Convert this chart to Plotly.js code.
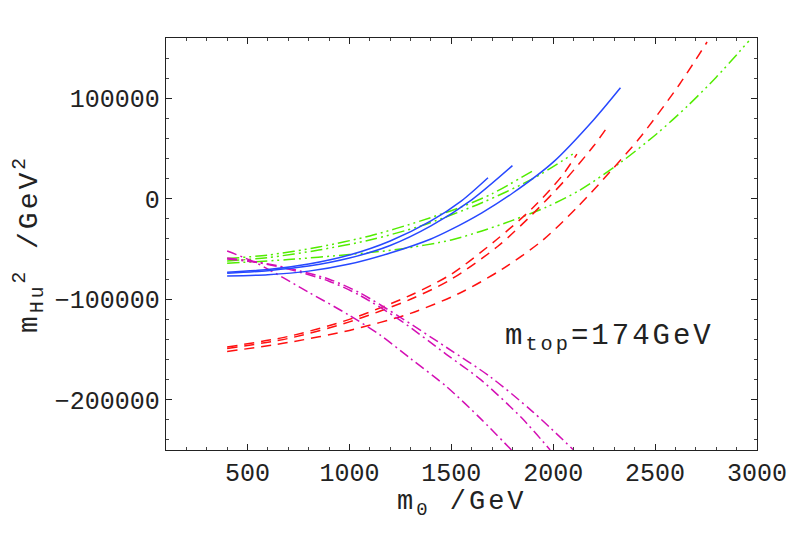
<!DOCTYPE html>
<html>
<head>
<meta charset="utf-8">
<script src="https://cdn.plot.ly/plotly-3.0.1.min.js"></script>
<style>
html,body{margin:0;padding:0;background:#fff;}
.annotation-text{letter-spacing:3px;}
</style>
</head>
<body>
<div id="chart" style="width:789px;height:553px;"></div>
<script>
// ---- data ----
const blue1X = [400, 600, 800, 1000, 1200, 1400, 1550, 1680];
const blue1Y = [-73000, -70500, -65000, -56000, -42000, -22000, -2000, 21000];
const blue2X = [400, 600, 800, 1000, 1200, 1400, 1600, 1800];
const blue2Y = [-74200, -71500, -67000, -59000, -46500, -27000, -1000, 33000];
const blue3X = [400, 600, 800, 1000, 1200, 1400, 1500, 1650, 1800, 2000, 2200, 2330];
const blue3Y = [-76800, -75500, -72000, -65000, -54000, -40000, -30500, -14000, 5500, 36500, 79000, 110500];

const green1X = [400, 600, 850, 1100, 1350, 1550, 1700, 1900];
const green1Y = [-59500, -56000, -48000, -37000, -22000, -8000, 5000, 27800];
const green2X = [400, 600, 850, 1100, 1350, 1650, 1900, 2096];
const green2Y = [-61900, -58500, -51000, -41000, -27000, -4000, 20000, 44400];
const green3X = [400, 700, 1000, 1250, 1500, 1650, 1800, 1970, 2130, 2330, 2510, 2660, 2800, 2960];
const green3Y = [-64200, -60500, -55500, -50000, -41000, -32000, -21500, -8000, 8500, 36000, 65000, 92500, 121000, 157000];

const red1X = [400, 700, 1000, 1300, 1500, 1720, 1900, 2040, 2116];
const red1Y = [-147500, -137000, -120000, -96000, -75000, -41000, -9000, 22000, 44400];
const red2X = [400, 700, 1000, 1300, 1500, 1730, 1900, 2060, 2200, 2259];
const red2Y = [-149000, -139000, -122500, -100000, -80000, -47000, -15000, 19000, 53000, 69500];
const red3X = [400, 700, 1000, 1300, 1540, 1750, 1950, 2120, 2280, 2430, 2620, 2755];
const red3Y = [-152000, -143000, -131000, -114000, -94000, -70000, -41000, -8000, 27000, 62000, 114000, 156000];

const mag1X = [400, 544, 800, 1000, 1150, 1300, 1477, 1650, 1795];
const mag1Y = [-52000, -64000, -93000, -116000, -135500, -159000, -187000, -220000, -250000];
const mag2X = [400, 550, 700, 900, 1050, 1250, 1477, 1644, 1845, 1985];
const mag2Y = [-60000, -63500, -70000, -82000, -96000, -121000, -155000, -180000, -218000, -250000];
const mag3X = [400, 550, 700, 900, 1050, 1250, 1477, 1690, 1900, 2100];
const mag3Y = [-59000, -63000, -69000, -80000, -93500, -118000, -148000, -177000, -212000, -250000];

const xTickVals = [500, 1000, 1500, 2000, 2500, 3000];
const xTickText = ['500', '1000', '1500', '2000', '2500', '3000'];
const yTickVals = [100000, 0, -100000, -200000];
const yTickText = ['100000', '0', '\u2212100000', '\u2212200000'];

const annText = 'm<sub>top</sub>=174GeV';
const xTitle = 'm<sub>0</sub> /GeV';
const yTitle = 'm<sub>Hu</sub><sup>2</sup> /GeV<sup>2</sup>';

// ---- styles ----
const BLUE = '#2748ff', GREEN = '#52ec00', RED = '#ff1010', MAG = '#d40fb4';
const solid = 'solid';
const dashDotDot = '12px,4px,2px,4px,2px,4px';
const dashed = '10px,7px';
const dashDot = '10px,4px,2px,4px';

function tr(x, y, color, dash) {
  return {x: x, y: y, type: 'scatter', mode: 'lines',
          line: {color: color, width: 1.5, dash: dash, shape: 'spline', smoothing: 0.8},
          hoverinfo: 'skip', showlegend: false};
}

const data = [
  tr(green1X, green1Y, GREEN, dashDotDot),
  tr(green2X, green2Y, GREEN, dashDotDot),
  tr(green3X, green3Y, GREEN, dashDotDot),
  tr(red1X, red1Y, RED, dashed),
  tr(red2X, red2Y, RED, dashed),
  tr(red3X, red3Y, RED, dashed),
  tr(mag1X, mag1Y, MAG, dashDot),
  tr(mag2X, mag2Y, MAG, dashDot),
  tr(mag3X, mag3Y, MAG, dashDot),
  tr(blue1X, blue1Y, BLUE, solid),
  tr(blue2X, blue2Y, BLUE, solid),
  tr(blue3X, blue3Y, BLUE, solid)
];

const FONT = 'Liberation Mono, Courier New, monospace';
const TXT = '#222';
const axisCommon = {
  showgrid: false, zeroline: false, showline: true, mirror: 'allticks',
  linecolor: '#222', linewidth: 1.2, ticks: 'inside', ticklen: 6, tickwidth: 1,
  tickcolor: '#222', tickfont: {family: FONT, size: 25, color: TXT},
  tickmode: 'array'
};

const layout = {
  width: 789, height: 553,
  margin: {l: 166, r: 32, t: 38, b: 103},
  paper_bgcolor: '#fff', plot_bgcolor: '#fff',
  font: {family: FONT, color: TXT},
  xaxis: Object.assign({}, axisCommon, {
    range: [100, 3000], tickvals: xTickVals, ticktext: xTickText,
    minor: {ticks: 'inside', dtick: 100, tick0: 0, ticklen: 3, tickcolor: '#444'}
  }),
  yaxis: Object.assign({}, axisCommon, {
    range: [-250000, 160000], tickvals: yTickVals, ticktext: yTickText,
    minor: {ticks: 'inside', dtick: 20000, tick0: 0, ticklen: 3, tickcolor: '#444'}
  }),
  annotations: [{
    x: 1754, y: -138500, xref: 'x', yref: 'y', xanchor: 'left', yanchor: 'middle',
    text: annText, showarrow: false, font: {family: FONT, size: 29, color: TXT}
  }, {
    x: 0.5, y: -0.131, xref: 'paper', yref: 'paper', xanchor: 'center', yanchor: 'middle',
    text: xTitle, showarrow: false, font: {family: FONT, size: 27, color: TXT}
  }, {
    x: -0.232, y: 0.5, xref: 'paper', yref: 'paper', xanchor: 'center', yanchor: 'middle',
    textangle: -90, text: yTitle, showarrow: false, font: {family: FONT, size: 28, color: TXT}
  }]
};

Plotly.newPlot('chart', data, layout, {staticPlot: true, displayModeBar: false});
</script>
</body>
</html>
